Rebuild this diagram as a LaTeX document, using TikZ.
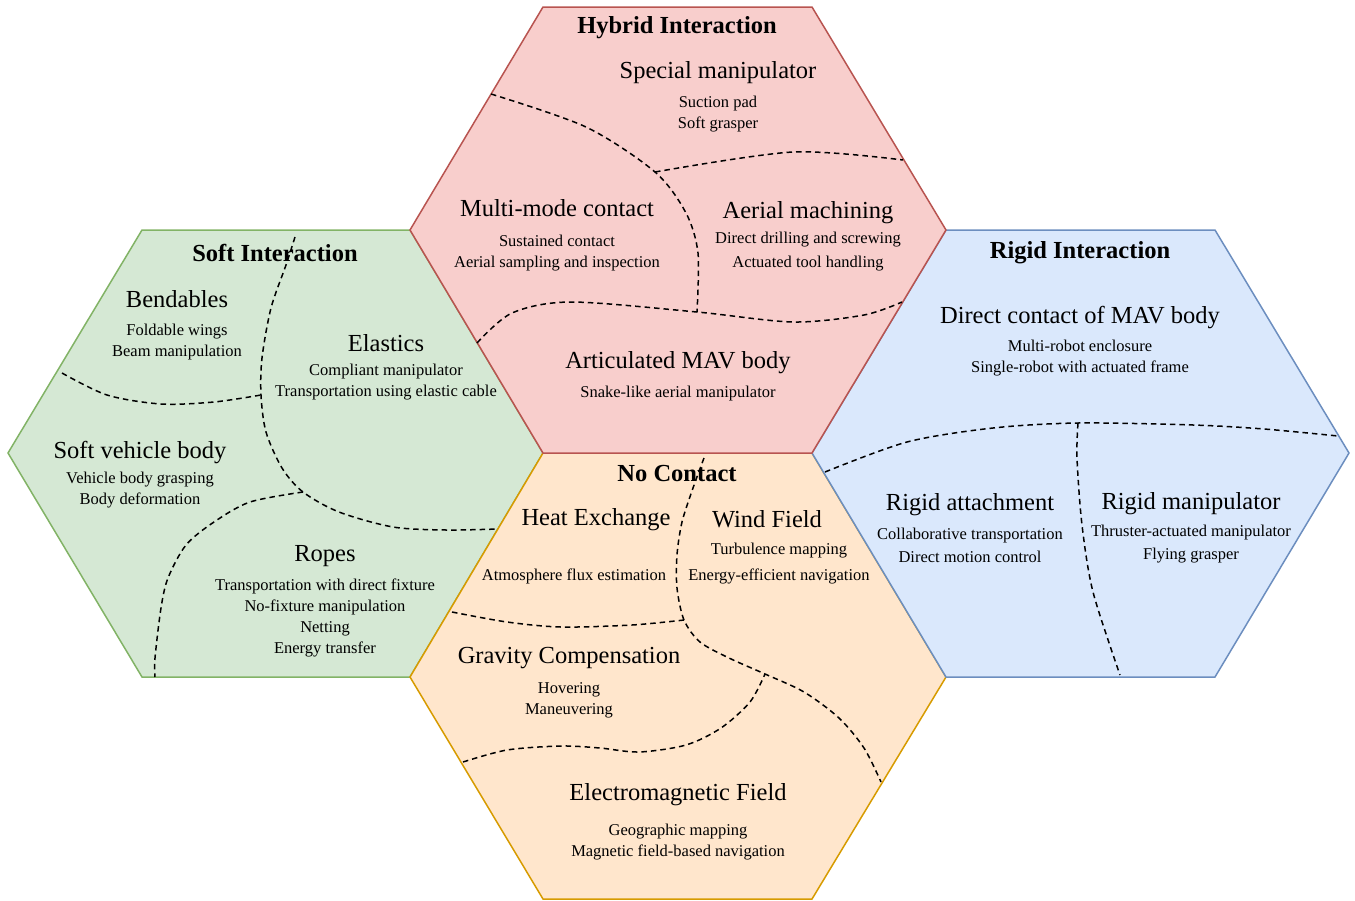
\documentclass[tikz,border=0pt]{standalone}
\usepackage{fontspec}
\setmainfont{Liberation Serif}
\usepackage[dvipsnames]{xcolor}

\definecolor{hybfill}{HTML}{F8CECC}
\definecolor{hybline}{HTML}{B85450}
\definecolor{softfill}{HTML}{D5E8D4}
\definecolor{softline}{HTML}{82B366}
\definecolor{rigfill}{HTML}{DAE8FC}
\definecolor{rigline}{HTML}{6C8EBF}
\definecolor{ncfill}{HTML}{FFE6CC}
\definecolor{ncline}{HTML}{D79B00}

\begin{document}
\begin{tikzpicture}[x=1pt,y=-1pt,
    hexa/.style={line width=1.5pt, line join=miter},
    divider/.style={line width=1.5pt, dash pattern=on 5.5pt off 4pt},
    title node/.style={font=\fontsize{24.5}{28}\selectfont\bfseries},
    head node/.style={font=\fontsize{24.5}{28}\selectfont},
    item node/.style={font=\fontsize{16.5}{21}\selectfont, align=center}]

                \useasboundingbox (0,0) rectangle (1355,900);

                % the four hexagons
                \draw[hexa, fill=softfill, draw=softline] (142,230) -- (410,230) -- (543,453) -- (410,677) -- (142,677) -- (8,453) -- cycle;
                \draw[hexa, fill=ncfill, draw=ncline] (543,453) -- (812,453) -- (946,677) -- (812,899) -- (543,899) -- (410,677) -- cycle;
                \draw[hexa, fill=rigfill, draw=rigline] (946,230) -- (1215,230) -- (1349,453) -- (1215,677) -- (946,677) -- (812,453) -- cycle;
                \draw[hexa, fill=hybfill, draw=hybline] (543,7) -- (812,7) -- (946,230) -- (812,453) -- (543,453) -- (410,230) -- cycle;

                % dividers, hybrid
                \coordinate (hj1) at (655,172);
                \coordinate (hj2) at (697,312);
                \draw[divider] plot[smooth] coordinates {(491,94) (586,127) (hj1) (686,213) (698,253) (hj2)};
                \draw[divider] plot[smooth] coordinates {(hj1) (793,152) (903,160)};
                \draw[divider] plot[smooth] coordinates {(477,343) (512,313) (571,302) (hj2) (793,322) (864,315) (902,302)};

                % dividers, soft
                \coordinate (sj1) at (261,395);
                \coordinate (sj2) at (303,492);
                \draw[divider] plot[smooth] coordinates {(295,237) (286,265) (271,308) (262,358) (sj1) (266,432) (282,468) (sj2) (339,512) (393,527) (446,530) (498,529)};
                \draw[divider] plot[smooth] coordinates {(62,373) (107,395) (161,404) (214,402) (sj1)};
                \draw[divider] plot[smooth] coordinates {(sj2) (250,502) (214,522) (186,545) (168,578) (161,608) (155,658) (155,677)};

                % dividers, rigid
                \coordinate (rj) at (1078,423);
                \draw[divider] plot[smooth] coordinates {(825,472) (907,442) (993,428) (rj) (1193,425) (1264,429) (1338,436)};
                \draw[divider] plot[smooth] coordinates {(rj) (1077,458) (1082,525) (1093,592) (1120,675)};

                % dividers, no contact
                \coordinate (nj1) at (684,620);
                \coordinate (nj2) at (765,674);
                \draw[divider] plot[smooth] coordinates {(704,458) (693,488) (682,522) (677,555) (677,588) (nj1) (700,642) (729,658) (nj2) (804,692) (839,718) (864,748) (881,782)};
                \draw[divider] plot[smooth] coordinates {(452,612) (507,622) (561,627) (632,625) (nj1)};
                \draw[divider] plot[smooth] coordinates {(463,762) (507,750) (561,746) (600,748) (639,752) (686,745) (721,728) (750,702) (nj2)};

                \begin{scope}[yshift=-2.5pt]
                % hybrid interaction
                \node[title node] (hybtitle) at (677,25) {Hybrid Interaction};
                \node[head node] (special) at (718,70) {Special manipulator};
                \node[item node] (specialitems) at (718,112) {Suction pad\\Soft grasper};
                \node[head node] (multimode) at (557,206) {Multi-mode contact};
                \node[item node] (multimodeitems) at (557,251) {Sustained contact\\Aerial sampling and inspection};
                \node[head node] (machining) at (808,210) {Aerial machining};
                \node[item node] (machiningitems) at (808,249) {Direct drilling and screwing\\[3pt]Actuated tool handling};
                \node[head node] (articulated) at (678,360) {Articulated MAV body};
                \node[item node] (articulateditems) at (678,391) {Snake-like aerial manipulator};

                % soft interaction
                \node[title node] (softtitle) at (275,250) {Soft Interaction};
                \node[head node] (bendables) at (177,297) {Bendables};
                \node[item node] (bendablesitems) at (177,340) {Foldable wings\\Beam manipulation};
                \node[head node] (elastics) at (386,341) {Elastics};
                \node[item node] (elasticsitems) at (386,380) {Compliant manipulator\\Transportation using elastic cable};
                \node[head node] (softbody) at (140,450) {Soft vehicle body};
                \node[item node] (softbodyitems) at (140,488) {Vehicle body grasping\\Body deformation};
                \node[head node] (ropes) at (325,554) {Ropes};
                \node[item node] (ropesitems) at (325,615) {Transportation with direct fixture\\No-fixture manipulation\\Netting\\Energy transfer};

                % rigid interaction
                \node[title node] (rigtitle) at (1080,250) {Rigid Interaction};
                \node[head node] (direct) at (1080,315) {Direct contact of MAV body};
                \node[item node] (directitems) at (1080,356) {Multi-robot enclosure\\Single-robot with actuated frame};
                \node[head node] (attach) at (970,502) {Rigid attachment};
                \node[item node] (attachitems) at (970,543) {Collaborative transportation\\[2pt]Direct motion control};
                \node[head node] (rigmanip) at (1191,501) {Rigid manipulator};
                \node[item node] (rigmanipitems) at (1191,542) {Thruster-actuated manipulator\\[2pt]Flying grasper};

                % no contact
                \node[title node] (nctitle) at (677,471) {No Contact};
                \node[head node] (heat) at (596,517) {Heat Exchange};
                \node[item node] (heatitems) at (574,574) {Atmosphere flux estimation};
                \node[head node] (wind) at (767,517) {Wind Field};
                \node[item node] (winditems) at (779,561) {Turbulence mapping\\[5pt]Energy-efficient navigation};
                \node[head node] (gravity) at (569,656) {Gravity Compensation};
                \node[item node] (gravityitems) at (569,698) {Hovering\\Maneuvering};
                \node[head node] (em) at (678,792) {Electromagnetic Field};
                \node[item node] (emitems) at (678,840) {Geographic mapping\\Magnetic field-based navigation};
                \end{scope}
            \end{tikzpicture}
\end{document}
